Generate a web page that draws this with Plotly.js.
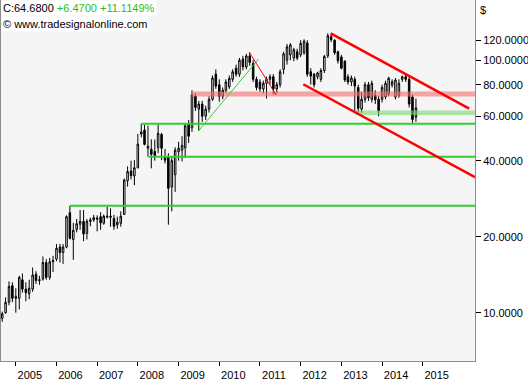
<!DOCTYPE html>
<html><head><meta charset="utf-8">
<script src="https://cdn.plot.ly/plotly-3.0.1.min.js"></script>
<style>html,body{margin:0;padding:0;background:#fff;}#chart{width:528px;height:380px;}</style>
</head><body><div id="chart"></div>
<script>
// Monthly candles, first month Sep 2004
const firstMonth = [2004, 9];
const openP  = [9.5,10.0,11.0,12.8,11.4,11.4,13.5,12.4,11.9,12.4,14.2,13.4,13.6,15.8,13.8,15.9,16.3,18.2,17.3,18.2,24.9,19.5,21.4,22.4,23.0,20.6,23.0,23.3,23.7,24.0,22.6,23.9,24.1,23.6,22.3,22.6,24.5,33.3,36.4,34.8,37.5,51.0,52.9,44.8,44.4,43.5,45.0,50.8,41.3,41.5,31.5,35.2,43.4,44.0,45.0,56.0,54.0,72.0,64.0,67.0,60.0,64.0,70.0,88.0,80.0,72.0,76.0,78.5,84.0,93.0,88.0,101.0,94.0,104.0,97.0,84.0,82.0,77.0,81.0,84.0,86.0,77.0,80.0,92.0,100.0,105.0,102.0,108.0,105.0,107.0,117.0,90.0,88.0,86.0,84.0,91.0,104.0,124.0,120.0,108.0,103.0,99.0,86.0,82.0,84.0,78.0,64.0,70.0,80.0,70.0,72.6,70.0,70.0,71.5,73.5,79.7,71.5,72.6,84.0,86.0,84.0,71.5,59.5];
const highP  = [10.1,11.5,13.3,13.2,12.5,14.0,14.3,13.2,13.5,15.1,14.6,14.0,16.7,16.3,16.5,16.8,18.7,18.7,18.7,24.3,26.5,22.7,23.5,25.5,25.5,23.5,23.8,24.4,24.3,25.0,24.5,26.3,25.9,24.4,24.0,25.2,34.0,38.0,40.0,40.2,51.0,56.0,55.5,55.0,48.6,48.5,55.5,51.5,44.5,42.8,41.3,45.2,47.5,50.0,56.0,58.0,76.0,74.0,69.0,69.0,66.0,72.0,87.0,92.0,84.0,78.0,84.0,87.0,92.0,96.0,102.0,104.0,106.0,107.5,100.0,86.0,84.0,83.0,86.0,88.0,88.0,82.0,92.0,108.0,116.0,117.0,112.0,111.0,120.0,121.0,120.0,93.0,89.0,90.0,93.0,105.0,127.8,127.0,121.0,109.0,105.0,100.0,88.0,87.0,86.0,80.0,75.0,82.0,82.0,83.0,76.0,72.0,80.0,83.0,86.0,84.0,85.0,84.0,87.0,87.5,86.0,73.0,70.5];
const lowP   = [9.2,9.9,10.7,11.0,10.0,10.3,12.0,11.1,11.3,12.1,13.0,12.9,13.4,13.5,13.5,14.5,16.0,15.8,15.6,18.0,19.5,16.2,20.8,21.3,19.2,19.5,22.0,22.9,21.0,21.3,22.3,23.6,21.9,21.3,21.5,21.9,24.4,31.6,33.7,32.0,37.3,49.5,46.0,41.5,37.3,40.0,42.8,40.2,39.0,22.3,25.2,30.1,40.0,39.7,41.0,47.0,52.0,63.0,52.5,57.0,58.0,62.0,69.0,77.0,68.5,70.0,74.0,77.0,82.0,86.0,86.0,91.0,92.0,95.0,82.0,76.0,75.0,74.0,70.5,80.0,73.0,74.0,78.0,88.0,96.0,100.0,99.0,100.0,103.0,105.0,86.0,80.0,78.0,84.0,82.0,89.0,102.0,118.0,105.0,97.0,92.0,82.0,80.0,79.0,62.0,62.0,62.0,68.0,69.0,68.0,67.0,60.0,68.0,70.0,72.0,78.0,70.0,71.0,82.0,82.0,65.0,56.5,57.0];
const closeP = [9.9,11.0,12.7,11.4,11.6,13.8,12.4,12.0,12.5,14.1,13.4,13.5,15.8,13.8,15.9,16.1,18.0,17.3,18.2,24.0,19.7,21.2,22.5,23.0,20.5,23.0,23.3,23.8,23.5,22.7,24.1,24.1,23.9,22.0,22.8,24.1,33.5,36.2,34.9,37.5,46.5,52.0,46.4,45.7,42.4,41.9,51.3,44.8,40.2,31.1,40.0,44.0,44.8,46.0,55.0,50.0,73.0,65.0,67.0,60.0,64.0,70.0,85.0,79.0,72.0,76.0,82.0,84.7,90.0,88.0,100.0,94.0,104.0,98.0,84.0,78.0,77.0,81.0,84.0,86.0,77.0,80.0,90.0,106.0,113.0,115.0,110.0,102.0,116.6,119.0,88.0,86.5,80.0,89.0,91.0,103.4,125.0,120.5,107.0,99.5,93.0,83.5,82.0,85.0,79.0,64.5,70.0,80.0,71.0,81.0,69.7,63.0,78.0,81.0,84.8,82.2,83.5,81.0,86.0,84.0,67.0,58.21,64.68];

// horizontal levels
const greenLevels = [26.5, 41.5, 56.0];
const greenStarts = ['2006-05-02', '2008-04-05', '2008-02-01'];
const redBandLevel = 73.4, redBandStart = '2009-04-25';
const supportLevel = 61.9, supportStart = '2013-05-10';
const rangeEnd = '2016-04-14';
// trend lines
const channelUpperX = ['2012-09-27', '2016-02-22'], channelUpperY = [127.8, 64.3];
const channelLowerX = ['2012-01-25', '2016-04-14'], channelLowerY = [80.3, 34.4];
const greenTrendX = ['2009-06-27', '2010-12-20'], greenTrendY = [52.4, 101.1];
const redTrendX = ['2010-09-27', '2011-05-27'], redTrendY = [107.5, 72.8];
// axis labels
const xTickYears = ['2005', '2006', '2007', '2008', '2009', '2010', '2011', '2012', '2013', '2014', '2015'];
const yTickVals = [10, 20, 40, 60, 80, 100, 120];
const yTickText = ['10.0000', '20.0000', '40.0000', '60.0000', '80.0000', '100.0000', '120.0000'];
const lastClose = '64.6800', change = '+6.4700', changePct = '+11.1149%';

const dates = [];
for (let i = 0; i < closeP.length; i++) {
  const m0 = firstMonth[1] - 1 + i;
  const y = firstMonth[0] + Math.floor(m0 / 12), m = (m0 % 12) + 1;
  dates.push(y + '-' + String(m).padStart(2, '0') + '-01');
}

const FONT = 'Liberation Sans, Arial, sans-serif';
const green = '#32cd32';
const traces = [];
traces.push({
  type: 'candlestick', x: dates, open: openP, high: highP, low: lowP, close: closeP,
  increasing: {line: {color: '#000', width: 1}, fillcolor: '#ffffff'},
  decreasing: {line: {color: '#000', width: 1}, fillcolor: '#000000'},
  whiskerwidth: 0, hoverinfo: 'skip', showlegend: false
});
traces.push({type: 'scatter', mode: 'lines', x: [redBandStart, rangeEnd], y: [redBandLevel, redBandLevel],
  line: {color: 'rgba(245,110,110,0.6)', width: 5}, hoverinfo: 'skip', showlegend: false});
traces.push({type: 'scatter', mode: 'lines', x: [supportStart, rangeEnd], y: [supportLevel, supportLevel],
  line: {color: 'rgba(120,215,110,0.6)', width: 4.5}, hoverinfo: 'skip', showlegend: false});
greenLevels.forEach((lv, i) => traces.push({type: 'scatter', mode: 'lines', x: [greenStarts[i], rangeEnd], y: [lv, lv],
  line: {color: green, width: 2}, hoverinfo: 'skip', showlegend: false}));
traces.push({type: 'scatter', mode: 'lines', x: channelUpperX, y: channelUpperY, line: {color: '#ff0000', width: 2.5}, hoverinfo: 'skip', showlegend: false});
traces.push({type: 'scatter', mode: 'lines', x: channelLowerX, y: channelLowerY, line: {color: '#ff0000', width: 2.5}, hoverinfo: 'skip', showlegend: false});
traces.push({type: 'scatter', mode: 'lines', x: greenTrendX, y: greenTrendY, line: {color: green, width: 1}, hoverinfo: 'skip', showlegend: false});
traces.push({type: 'scatter', mode: 'lines', x: redTrendX, y: redTrendY, line: {color: '#ff0000', width: 1}, hoverinfo: 'skip', showlegend: false});

const layout = {
  width: 528, height: 380,
  margin: {l: 1, r: 53, t: 0, b: 19},
  paper_bgcolor: '#ffffff', plot_bgcolor: '#f5f5f5',
  font: {family: FONT, size: 11, color: '#000'},
  showlegend: false,
  xaxis: {
    type: 'date', range: ['2004-08-21', rangeEnd],
    rangeslider: {visible: false},
    showgrid: false, zeroline: false,
    showline: true, linecolor: '#8c8c8c', linewidth: 1,
    ticks: 'outside', ticklen: 4, tickcolor: '#000', tickwidth: 1,
    tickmode: 'array', tickvals: xTickYears.map(y => y + '-01-01'), ticktext: xTickYears,
    ticklabelshift: 14, ticklabelstandoff: 0,
    tickfont: {family: FONT, size: 11, color: '#000'}
  },
  yaxis: {
    type: 'log', side: 'right', range: [0.8087, 2.2384],
    showgrid: false, zeroline: false,
    showline: true, mirror: true, linecolor: '#8c8c8c', linewidth: 1,
    ticks: 'outside', ticklen: 5, tickcolor: '#000', tickwidth: 1,
    tickvals: yTickVals, ticktext: yTickText,
    tickfont: {family: FONT, size: 11, color: '#000'}
  },
  annotations: [
    {xref: 'paper', yref: 'paper', x: 0, y: 1, xanchor: 'left', yanchor: 'top', showarrow: false,
     bgcolor: '#ffffff', borderpad: 1,
     text: 'C:' + lastClose + ' <span style="color:#1fbf1f">' + change + ' ' + changePct + '</span>',
     font: {family: FONT, size: 11, color: '#000'}},
    {xref: 'paper', yref: 'paper', x: 0, y: 1 - 16 / 361, xanchor: 'left', yanchor: 'top', showarrow: false,
     bgcolor: '#ffffff', borderpad: 1,
     text: '\u00a9 www.tradesignalonline.com', font: {family: FONT, size: 11, color: '#000'}},
    {xref: 'paper', yref: 'paper', x: 1.007, y: 1 - 2 / 361, xanchor: 'left', yanchor: 'top', showarrow: false,
     text: '$', font: {family: FONT, size: 11, color: '#000'}}
  ]
};
Plotly.newPlot('chart', traces, layout, {staticPlot: true, displayModeBar: false});
</script></body></html>
